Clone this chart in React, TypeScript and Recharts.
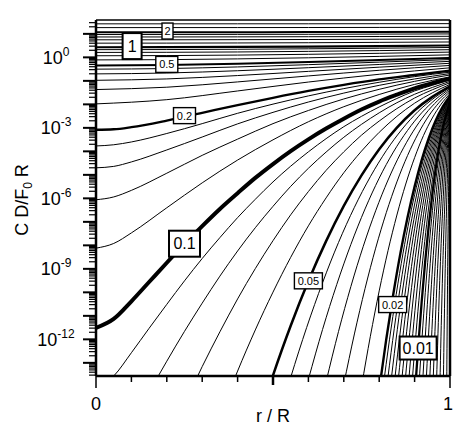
import React from 'react'
import { LineChart, Line, XAxis, YAxis, ReferenceDot, ReferenceLine } from 'recharts'

const FONT = '"Liberation Sans", Arial, Helvetica, sans-serif'

// x: r / R, y: log10(C D / F0 R)
type Pt = [number, number]
type Curve = { tau: number; pts: Pt[] }

// steep fronts hugging r/R = 1 (shortest times)
const EDGE_CURVES: Curve[] = [
  { tau: 0.001, pts: [[0.99, -15.52], [0.991, -13.38], [0.992, -11.43], [0.994, -8.17], [0.996, -5.71], [0.998, -4.0], [1, -2.95]] },
  { tau: 0.002, pts: [[0.98, -15.22], [0.982, -13.07], [0.984, -11.13], [0.988, -7.87], [0.992, -5.41], [0.996, -3.69], [1, -2.65]] },
  { tau: 0.003, pts: [[0.97, -15.04], [0.973, -12.89], [0.976, -10.95], [0.982, -7.69], [0.988, -5.23], [0.994, -3.52], [1, -2.47]] },
  { tau: 0.004, pts: [[0.96, -14.91], [0.964, -12.76], [0.968, -10.82], [0.976, -7.56], [0.984, -5.1], [0.992, -3.39], [1, -2.35]] },
  { tau: 0.005, pts: [[0.95, -14.81], [0.955, -12.66], [0.96, -10.72], [0.97, -7.46], [0.98, -5.0], [0.99, -3.29], [1, -2.25]] },
  { tau: 0.006, pts: [[0.94, -14.72], [0.946, -12.58], [0.952, -10.64], [0.964, -7.38], [0.976, -4.92], [0.988, -3.21], [1, -2.17]] },
  { tau: 0.007, pts: [[0.93, -14.65], [0.937, -12.51], [0.944, -10.57], [0.958, -7.31], [0.972, -4.85], [0.986, -3.15], [1, -2.1]] },
  { tau: 0.008, pts: [[0.92, -14.59], [0.928, -12.44], [0.936, -10.51], [0.952, -7.25], [0.968, -4.79], [0.984, -3.09], [1, -2.05]] },
  { tau: 0.009, pts: [[0.91, -14.53], [0.919, -12.39], [0.928, -10.45], [0.946, -7.2], [0.964, -4.74], [0.982, -3.04], [1, -1.99]] },
]

const NEAR_CURVES: Curve[] = [
  { tau: 0.01, pts: [[0.9, -14.48], [0.91, -12.34], [0.92, -10.4], [0.93, -8.67], [0.94, -7.15], [0.95, -5.82], [0.96, -4.69], [0.97, -3.75], [0.98, -2.99], [0.99, -2.4], [1, -1.94]] },
  { tau: 0.011, pts: [[0.89, -14.44], [0.901, -12.29], [0.912, -10.36], [0.934, -7.1], [0.956, -4.65], [0.978, -2.95], [1, -1.91]] },
  { tau: 0.012, pts: [[0.88, -14.39], [0.892, -12.25], [0.904, -10.31], [0.928, -7.06], [0.952, -4.61], [0.976, -2.91], [1, -1.87]] },
  { tau: 0.013, pts: [[0.87, -14.35], [0.883, -12.21], [0.896, -10.28], [0.922, -7.03], [0.948, -4.57], [0.974, -2.87], [1, -1.83]] },
  { tau: 0.014, pts: [[0.86, -14.32], [0.874, -12.18], [0.888, -10.24], [0.916, -6.99], [0.944, -4.54], [0.972, -2.84], [1, -1.8]] },
  { tau: 0.015, pts: [[0.85, -14.28], [0.865, -12.14], [0.88, -10.21], [0.91, -6.96], [0.94, -4.51], [0.97, -2.81], [1, -1.77]] },
  { tau: 0.016, pts: [[0.84, -14.25], [0.856, -12.11], [0.872, -10.17], [0.904, -6.93], [0.936, -4.48], [0.968, -2.78], [1, -1.74]] },
  { tau: 0.017, pts: [[0.83, -14.22], [0.847, -12.08], [0.864, -10.14], [0.898, -6.9], [0.932, -4.45], [0.966, -2.75], [1, -1.72]] },
  { tau: 0.018, pts: [[0.82, -14.19], [0.838, -12.05], [0.856, -10.12], [0.892, -6.87], [0.928, -4.42], [0.964, -2.73], [1, -1.69]] },
  { tau: 0.019, pts: [[0.81, -14.16], [0.829, -12.02], [0.848, -10.09], [0.886, -6.84], [0.924, -4.4], [0.962, -2.7], [1, -1.67]] },
  { tau: 0.02, pts: [[0.8, -14.13], [0.82, -11.99], [0.84, -10.06], [0.86, -8.33], [0.88, -6.82], [0.9, -5.5], [0.92, -4.37], [0.94, -3.44], [0.96, -2.68], [0.98, -2.09], [1, -1.64]] },
]

const MID_CURVES: Curve[] = [
  { tau: 0.025, pts: [[0.75, -14.01], [0.775, -11.87], [0.8, -9.94], [0.825, -8.22], [0.85, -6.71], [0.875, -5.39], [0.9, -4.27], [0.925, -3.33], [0.95, -2.58], [0.975, -1.99], [1, -1.54]] },
  { tau: 0.03, pts: [[0.7, -13.9], [0.73, -11.77], [0.76, -9.84], [0.79, -8.12], [0.82, -6.61], [0.85, -5.3], [0.88, -4.18], [0.91, -3.25], [0.94, -2.49], [0.97, -1.91], [1, -1.46]] },
  { tau: 0.035, pts: [[0.65, -13.8], [0.685, -11.67], [0.72, -9.75], [0.755, -8.04], [0.79, -6.53], [0.825, -5.22], [0.86, -4.1], [0.895, -3.17], [0.93, -2.42], [0.965, -1.84], [1, -1.39]] },
  { tau: 0.04, pts: [[0.6, -13.7], [0.64, -11.58], [0.68, -9.67], [0.72, -7.96], [0.76, -6.45], [0.8, -5.14], [0.84, -4.03], [0.88, -3.11], [0.92, -2.36], [0.96, -1.78], [1, -1.33]] },
  { tau: 0.045, pts: [[0.505, -15.94], [0.55, -13.62], [0.595, -11.5], [0.64, -9.59], [0.685, -7.88], [0.73, -6.38], [0.775, -5.08], [0.82, -3.97], [0.865, -3.05], [0.91, -2.3], [0.955, -1.73], [1, -1.28]] },
  { tau: 0.05, pts: [[0.45, -15.84], [0.5, -13.53], [0.55, -11.42], [0.6, -9.52], [0.65, -7.82], [0.7, -6.32], [0.75, -5.02], [0.8, -3.91], [0.85, -2.99], [0.9, -2.25], [0.95, -1.68], [1, -1.23]] },
  { tau: 0.06, pts: [[0.35, -15.25], [0.4, -13.35], [0.45, -11.6], [0.5, -9.99], [0.55, -8.51], [0.6, -7.17], [0.65, -5.98], [0.7, -4.91], [0.75, -3.99], [0.8, -3.19], [0.85, -2.51], [0.9, -1.95], [0.95, -1.51], [1, -1.15]] },
  { tau: 0.07, pts: [[0.25, -14.75], [0.3, -13.16], [0.35, -11.68], [0.4, -10.28], [0.45, -8.99], [0.5, -7.8], [0.55, -6.7], [0.6, -5.71], [0.65, -4.81], [0.7, -4.02], [0.75, -3.31], [0.8, -2.71], [0.85, -2.18], [0.9, -1.73], [0.95, -1.38], [1, -1.08]] },
  { tau: 0.08, pts: [[0.15, -14.25], [0.2, -12.93], [0.25, -11.66], [0.3, -10.46], [0.35, -9.31], [0.4, -8.24], [0.45, -7.25], [0.5, -6.34], [0.55, -5.49], [0.6, -4.72], [0.65, -4.03], [0.7, -3.4], [0.75, -2.85], [0.8, -2.36], [0.85, -1.93], [0.9, -1.57], [0.95, -1.28], [1, -1.02]] },
  { tau: 0.09, pts: [[0, -14.1], [0.05, -13.56], [0.1, -12.57], [0.15, -11.53], [0.2, -10.51], [0.25, -9.51], [0.3, -8.56], [0.35, -7.67], [0.4, -6.82], [0.45, -6.04], [0.5, -5.3], [0.55, -4.63], [0.6, -4.02], [0.65, -3.46], [0.7, -2.95], [0.75, -2.51], [0.8, -2.11], [0.85, -1.75], [0.9, -1.43], [0.95, -1.19], [1, -0.96]] },
]

const SLOW_CURVES: Curve[] = [
  { tau: 0.1, pts: [[0, -11.51], [0.05, -11.13], [0.1, -10.38], [0.15, -9.56], [0.2, -8.74], [0.25, -7.94], [0.3, -7.18], [0.35, -6.45], [0.4, -5.78], [0.45, -5.13], [0.5, -4.54], [0.55, -3.99], [0.6, -3.49], [0.65, -3.03], [0.7, -2.61], [0.75, -2.22], [0.8, -1.88], [0.85, -1.59], [0.9, -1.32], [0.95, -1.1], [1, -0.91]] },
  { tau: 0.12, pts: [[0, -8.12], [0.05, -7.92], [0.1, -7.47], [0.2, -6.4], [0.3, -5.34], [0.4, -4.37], [0.5, -3.51], [0.6, -2.74], [0.7, -2.1], [0.8, -1.58], [0.9, -1.15], [1, -0.83]] },
  { tau: 0.14, pts: [[0, -6.06], [0.05, -5.94], [0.1, -5.66], [0.2, -4.93], [0.3, -4.17], [0.4, -3.48], [0.5, -2.82], [0.6, -2.26], [0.7, -1.77], [0.8, -1.36], [0.9, -1.02], [1, -0.75]] },
  { tau: 0.16, pts: [[0, -4.7], [0.05, -4.64], [0.1, -4.45], [0.2, -3.94], [0.3, -3.39], [0.4, -2.83], [0.5, -2.34], [0.6, -1.9], [0.7, -1.52], [0.8, -1.19], [0.9, -0.92], [1, -0.69]] },
  { tau: 0.18, pts: [[0, -3.77], [0.05, -3.72], [0.1, -3.6], [0.2, -3.24], [0.3, -2.82], [0.4, -2.38], [0.5, -1.99], [0.6, -1.64], [0.7, -1.33], [0.8, -1.06], [0.9, -0.82], [1, -0.63]] },
  { tau: 0.2, pts: [[0, -3.08], [0.05, -3.06], [0.1, -2.97], [0.2, -2.69], [0.3, -2.36], [0.4, -2.03], [0.5, -1.72], [0.6, -1.43], [0.7, -1.17], [0.8, -0.94], [0.9, -0.75], [1, -0.56]] },
]

// later, flatter profiles sampled on a shared r/R grid
const R_GRID = [0, 0.2, 0.4, 0.6, 0.8, 1]

const LATE_TAUS = [0.25, 0.3, 0.35, 0.4, 0.45, 0.5]
const LATE_LOGC = [
  [-1.98, -1.8, -1.43, -1.05, -0.72, -0.445],
  [-1.37, -1.27, -1.045, -0.79, -0.55, -0.343],
  [-0.976, -0.918, -0.774, -0.596, -0.417, -0.253],
  [-0.703, -0.666, -0.569, -0.44, -0.303, -0.17],
  [-0.502, -0.476, -0.407, -0.311, -0.203, -0.094],
  [-0.344, -0.326, -0.274, -0.2, -0.114, -0.023],
]

const FLAT_TAUS = [0.6, 0.7, 0.8, 0.9, 1, 1.2, 1.4, 1.6, 1.8, 2, 2.5, 3]
const FLAT_LOGC = [
  [-0.108, -0.097, -0.065, -0.018, 0.041, 0.107],
  [0.068, 0.076, 0.097, 0.13, 0.173, 0.223],
  [0.21, 0.215, 0.23, 0.255, 0.288, 0.326],
  [0.328, 0.332, 0.344, 0.364, 0.389, 0.42],
  [0.431, 0.435, 0.444, 0.459, 0.48, 0.505],
  [0.604, 0.606, 0.613, 0.623, 0.638, 0.655],
  [0.747, 0.748, 0.753, 0.76, 0.771, 0.784],
  [0.868, 0.869, 0.873, 0.879, 0.887, 0.897],
  [0.974, 0.975, 0.978, 0.982, 0.989, 0.997],
  [1.068, 1.069, 1.071, 1.075, 1.08, 1.086],
  [1.266, 1.267, 1.268, 1.27, 1.274, 1.278],
  [1.427, 1.427, 1.428, 1.429, 1.432, 1.435],
]

// curve labels
const LABEL_TEXT = ['2', '1', '0.5', '0.2', '0.1', '0.05', '0.02', '0.01']
const LABEL_R = [0.202, 0.102, 0.2, 0.25, 0.25, 0.6, 0.838, 0.91]
const LABEL_LOGC = [1.12, 0.48, -0.3, -2.48, -7.93, -9.51, -10.52, -12.37]

const X_TICKS = [0, 0.1, 0.2, 0.3, 0.4, 0.5, 0.6, 0.7, 0.8, 0.9, 1]
const X_TICK_LABELS = ['0', '', '', '', '', '', '', '', '', '', '1']
const Y_DECADES = [1, 0, -1, -2, -3, -4, -5, -6, -7, -8, -9, -10, -11, -12, -13, -14]
const Y_LABELED = [0, -3, -6, -9, -12]

const Y_DOMAIN: [number, number] = [-13.56, 1.59]

const yTicks = Y_DECADES.flatMap((d) =>
  [1, 2, 3, 4, 5, 6, 7, 8, 9].map((k) => d + Math.log10(k))
).filter((v) => v >= Y_DOMAIN[0] && v <= Y_DOMAIN[1])

const THICK: Record<string, number> = {
  '0.01': 2.3, '0.02': 2.4, '0.05': 2.5, '0.1': 4, '0.2': 2.3, '0.5': 2, '1': 2.2, '2': 2,
}
const BIG_LABELS = ['1', '0.1', '0.01']

function YTick(props: any) {
  const { x, y, payload } = props
  const v = payload.value as number
  const exp = Math.round(v)
  const decade = Math.abs(v - exp) < 1e-9
  const len = decade ? 13 : 7
  return (
    <g>
      <line x1={x - len} y1={y} x2={x} y2={y} stroke="#000" strokeWidth={decade ? 2 : 1.2} />
      {decade && Y_LABELED.includes(exp) && (
        <text x={x - 40} y={y + 6.5} textAnchor="middle" fontFamily={FONT} fontSize={18} fill="#000">
          10
          <tspan dy={-8} fontSize={12}>
            {String(exp)}
          </tspan>
        </text>
      )}
    </g>
  )
}

function XTick(props: any) {
  const { x, y, payload, top } = props
  const v = payload.value as number
  const i = X_TICKS.indexOf(v)
  const end = v === 0 || v === 1
  const mid = Math.abs(v - 0.5) < 1e-9
  const len = top ? (mid ? 8 : 6) : end ? 12 : mid ? 9 : 6
  const dir = top ? -1 : 1
  return (
    <g>
      <line x1={x} y1={y} x2={x} y2={y + dir * len} stroke="#000" strokeWidth={mid ? 2.5 : 1.5} />
      {!top && X_TICK_LABELS[i] && (
        <text
          x={v === 1 ? x + 3 : x}
          y={y + 34}
          textAnchor={v === 1 ? 'end' : 'middle'}
          fontFamily={FONT}
          fontSize={18}
          fill="#000"
        >
          {X_TICK_LABELS[i]}
        </text>
      )}
    </g>
  )
}

function LabelBox({ cx, cy, text }: { cx: number; cy: number; text: string }) {
  const big = BIG_LABELS.includes(text)
  const fs = big ? 16 : 11
  const w = text.length === 1 ? (big ? 19 : 11) : text.length === 3 ? (big ? 31 : 22) : big ? 37 : 28
  const h = big ? (text.length === 4 ? 23 : 26) : 16
  return (
    <g>
      <rect x={cx - w / 2} y={cy - h / 2} width={w} height={h} fill="#fff" stroke="#000" strokeWidth={big ? 2 : 1.4} />
      <text x={cx} y={cy + fs * 0.36} textAnchor="middle" fontFamily={FONT} fontSize={fs} fill="#000">
        {text}
      </text>
    </g>
  )
}

export default function App() {
  const curves: Curve[] = [
    ...EDGE_CURVES,
    ...NEAR_CURVES,
    ...MID_CURVES,
    ...SLOW_CURVES,
    ...LATE_TAUS.map((tau, i) => ({ tau, pts: R_GRID.map((r, j) => [r, LATE_LOGC[i][j]] as Pt) })),
    ...FLAT_TAUS.map((tau, i) => ({ tau, pts: R_GRID.map((r, j) => [r, FLAT_LOGC[i][j]] as Pt) })),
  ]
  const width = (c: Curve) => THICK[String(c.tau)] ?? 1
  const ordered = [...curves].sort((a, b) => width(a) - width(b))

  return (
    <div style={{ position: 'absolute', left: 0, top: 0, width: 453, height: 426, background: '#fff' }}>
      <LineChart width={453} height={426} margin={{ top: 0, right: 3, bottom: 0, left: 0 }}>
        <XAxis
          xAxisId={0}
          dataKey="r"
          type="number"
          domain={[0, 1]}
          allowDataOverflow
          ticks={X_TICKS}
          interval={0}
          height={50}
          tickSize={0}
          tickMargin={0}
          tickLine={false}
          tick={(p: any) => <XTick {...p} />}
          axisLine={{ stroke: '#000', strokeWidth: 2.5 }}
          label={{
            content: (p: any) => {
              const vb = p.viewBox || { x: 96, y: 376, width: 354, height: 50 }
              return (
                <text x={vb.x + vb.width / 2} y={vb.y + 46} textAnchor="middle" fontFamily={FONT} fontSize={18} fill="#000">
                  r / R
                </text>
              )
            },
          }}
        />
        <XAxis
          xAxisId="top"
          orientation="top"
          type="number"
          domain={[0, 1]}
          allowDataOverflow
          ticks={X_TICKS}
          interval={0}
          height={20}
          tickSize={0}
          tickMargin={0}
          tickLine={false}
          tick={(p: any) => <XTick {...p} top />}
          axisLine={{ stroke: '#000', strokeWidth: 1.5 }}
        />
        <YAxis
          type="number"
          domain={Y_DOMAIN}
          allowDataOverflow
          ticks={yTicks}
          interval={0}
          width={96}
          tickSize={0}
          tickMargin={0}
          tickLine={false}
          tick={(p: any) => <YTick {...p} />}
          axisLine={{ stroke: '#000', strokeWidth: 2.5 }}
          label={{
            content: (p: any) => {
              const vb = p.viewBox || { x: 0, y: 20, width: 96, height: 356 }
              const cx = vb.x + 28
              const cy = vb.y + vb.height / 2 + 2
              return (
                <text
                  x={cx}
                  y={cy}
                  transform={`rotate(-90, ${cx}, ${cy})`}
                  textAnchor="middle"
                  fontFamily={FONT}
                  fontSize={18}
                  fill="#000"
                >
                  C D/F
                  <tspan fontSize={12} dy={4}>
                    0
                  </tspan>
                  <tspan dy={-4}> R</tspan>
                </text>
              )
            },
          }}
        />
        <ReferenceLine x={1} stroke="#000" strokeWidth={2.5} />
        {ordered.map((c) => (
          <Line
            key={c.tau}
            data={c.pts.map(([r, v]) => ({ r, v }))}
            dataKey="v"
            type="monotone"
            stroke="#000"
            strokeWidth={width(c)}
            dot={false}
            activeDot={false}
            isAnimationActive={false}
          />
        ))}
        {LABEL_TEXT.map((t, i) => (
          <ReferenceDot
            key={t}
            x={LABEL_R[i]}
            y={LABEL_LOGC[i]}
            r={1}
            ifOverflow="visible"
            shape={(p: any) => <LabelBox cx={p.cx} cy={p.cy} text={t} />}
          />
        ))}
      </LineChart>
    </div>
  )
}
